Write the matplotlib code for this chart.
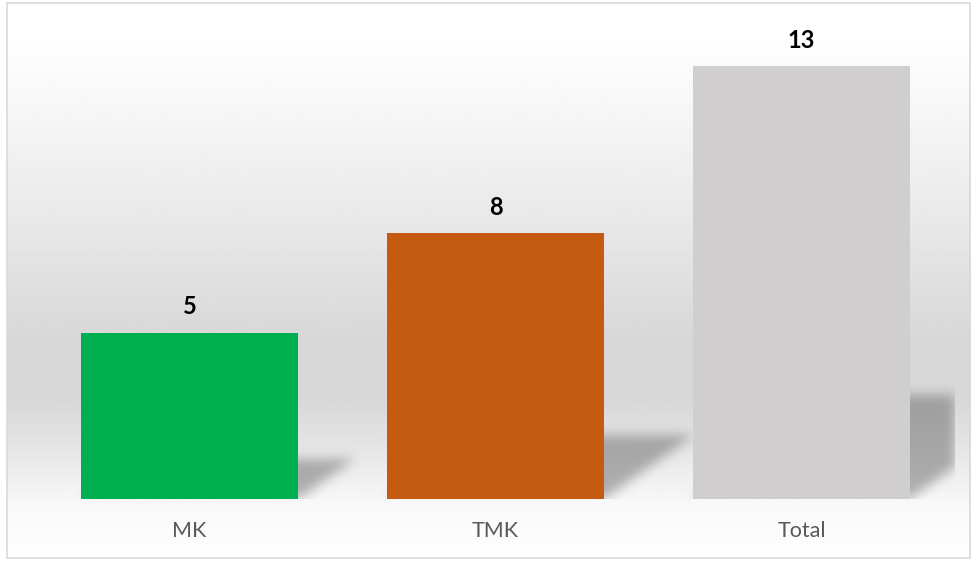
import numpy as np
import matplotlib.pyplot as plt
from matplotlib.patches import Rectangle

categories = ['MK', 'TMK', 'Total']
values = [5, 8, 13]
colors = ['#00B050', '#C55A11', '#D0CECE']

W, H = 972, 561
fig = plt.figure(figsize=(W / 100, H / 100), dpi=100)
fig.patch.set_facecolor('white')

# chart area background: vertical gradient white -> gray -> white
bg = fig.add_axes([7 / W, 3 / H, 963 / W, 555 / H], zorder=0)
ys = np.linspace(0, 1, 556)  # 0 = top
stops_y = [0.0, 0.07, 0.2, 0.4, 0.6, 0.72, 0.82, 0.9, 1.0]
stops_v = [255, 254, 246, 232, 216, 216, 232, 248, 254]
col = np.interp(ys, stops_y, stops_v) / 255.0
img = np.repeat(col[:, None], 10, axis=1)
bg.imshow(img, cmap='gray', vmin=0, vmax=1, aspect='auto', interpolation='bilinear')
bg.set_axis_off()
fig.patches.append(Rectangle((7 / W, 3 / H), 963 / W, 555 / H, transform=fig.transFigure,
                             fill=False, edgecolor='#D9D9D9', lw=1.2, zorder=10))

# plot area
ax_l, ax_r, ax_b = 36.5, 954.5, 499
px_per_unit = 33.3
ymax = 14
ax = fig.add_axes([ax_l / W, (H - ax_b) / H, (ax_r - ax_l) / W, ymax * px_per_unit / H], zorder=1)
ax.patch.set_alpha(0)
x = np.arange(len(categories))
bar_w = 0.71
ax.set_xlim(-0.5, len(categories) - 0.5)
ax.set_ylim(0, ymax)

# perspective shadows, rendered as blurred image
nx, ny = int(ax_r - ax_l), int(ymax * px_per_unit)
gx = np.linspace(-0.5, len(categories) - 0.5, nx)
gy = np.linspace(ymax, 0, ny)
XX, YY = np.meshgrid(gx, gy)
mask = np.zeros((ny, nx))
for xi, v in zip(x, values):
    hs = 0.24 * v
    dx = 0.037 * v
    t = YY / hs
    inside = (YY >= 0) & (YY <= hs) & (XX >= xi - bar_w / 2 + dx * t) & (XX <= xi + bar_w / 2 + dx * t)
    mask[inside] = 1.0
pad = 30
m = np.pad(mask, pad)
k = np.ones(11) / 11
for _ in range(3):
    m = np.apply_along_axis(lambda r: np.convolve(r, k, mode='same'), 1, m)
    m = np.apply_along_axis(lambda c: np.convolve(c, k, mode='same'), 0, m)
m = m[pad:-pad, pad:-pad]
shadow = np.zeros((ny, nx, 4))
shadow[..., :3] = 0.35
shadow[..., 3] = 0.45 * m
ax.imshow(shadow, extent=(-0.5, len(categories) - 0.5, 0, ymax), aspect='auto',
          interpolation='bilinear', zorder=2)

bars = ax.bar(x, values, width=bar_w, color=colors, zorder=3)
for b, v in zip(bars, values):
    ax.annotate(str(v), (b.get_x() + b.get_width() / 2, v), xytext=(0, 13),
                textcoords='offset points', ha='center', va='baseline',
                fontsize=17, fontweight='bold', family='Lato', color='black')

ax.set_xticks(x)
ax.set_xticklabels(categories, fontsize=15.5, family='Lato', color='#595959')
ax.tick_params(axis='x', length=0, pad=16)
ax.set_yticks([])
for s in ax.spines.values():
    s.set_visible(False)

fig.savefig('out.png', dpi=100)
